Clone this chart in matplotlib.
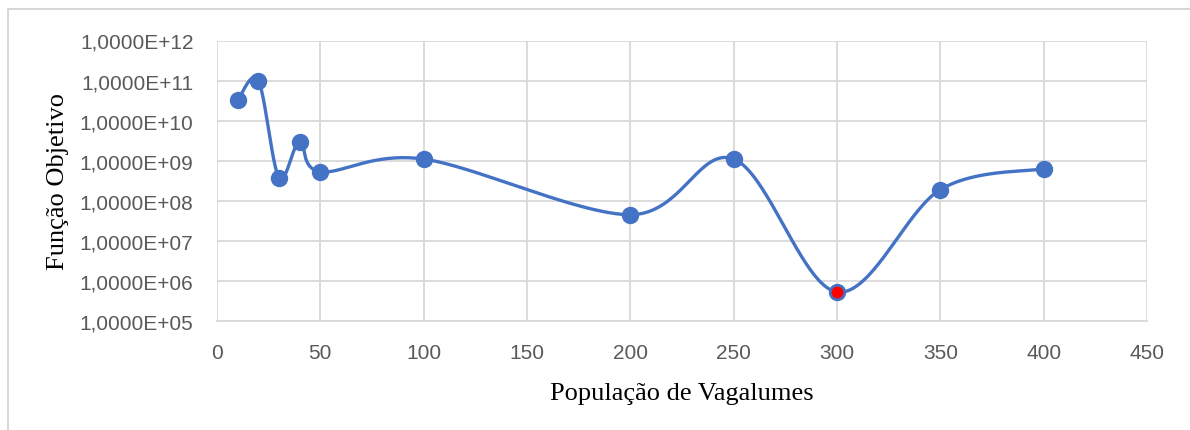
import numpy as np
import matplotlib
matplotlib.use("Agg")
import matplotlib.pyplot as plt
from matplotlib.patches import Rectangle
from matplotlib.ticker import FixedLocator, FuncFormatter

#%% data
populacao = [10, 20, 30, 40, 50, 100, 200, 250, 300, 350, 400]
funcao_obj = [3.2e10, 1.0e11, 3.8e8, 3.0e9, 5.3e8, 1.1e9, 4.5e7, 1.1e9, 5.3e5, 1.9e8, 6.3e8]
melhor_x = 300
x_ticks = [0, 50, 100, 150, 200, 250, 300, 350, 400, 450]
y_ticks = [1e5, 1e6, 1e7, 1e8, 1e9, 1e10, 1e11, 1e12]

blue = "#4472C4"
grid_c = "#D9D9D9"
tick_c = "#595959"

#%% smooth line (excel-like bezier, done in pixel space)
def smooth(xs, ys, sx=930 / 450, sy=40.0, n=40):
    px = np.array(xs, float) * sx
    py = np.log10(np.array(ys, float)) * sy
    P = np.column_stack([px, py])
    out = []
    for i in range(len(P) - 1):
        p0 = P[i - 1] if i > 0 else P[i]
        p1 = P[i]
        p2 = P[i + 1]
        p3 = P[i + 2] if i + 2 < len(P) else P[i + 1]
        c1 = p1 + (p2 - p0) / 6.0
        c2 = p2 - (p3 - p1) / 6.0
        t = np.linspace(0, 1, n)[:, None]
        seg = ((1 - t) ** 3) * p1 + 3 * ((1 - t) ** 2) * t * c1 + 3 * (1 - t) * t ** 2 * c2 + t ** 3 * p2
        out.append(seg if i == 0 else seg[1:])
    out = np.vstack(out)
    return out[:, 0] / sx, 10 ** (out[:, 1] / sy)

sx_, sy_ = smooth(populacao, funcao_obj)

#%% plot
fig = plt.figure(figsize=(11.9, 4.31), dpi=100)
fig.patches.append(Rectangle((8 / 1190, -0.1), 1.2, 1 - 10 / 431 + 0.1, transform=fig.transFigure,
                             fill=False, edgecolor="#D0D0D0", linewidth=1.2))
ax = fig.add_axes([217 / 1190, 1 - 322 / 431, 930 / 1190, (322 - 41.5) / 431])

ax.plot(sx_, sy_, color=blue, lw=2.4, zorder=3)
ax.plot(populacao, funcao_obj, "o", color=blue, ms=11.5, zorder=4)
i_best = populacao.index(melhor_x)
ax.plot([populacao[i_best]], [funcao_obj[i_best]], "o", color="#FF0000",
        mec=blue, mew=1.0, ms=9.5, zorder=5)

ax.set_yscale("log")
ax.set_xlim(0, 450)
ax.set_ylim(1e5, 1e12)
ax.xaxis.set_major_locator(FixedLocator(x_ticks))
ax.yaxis.set_major_locator(FixedLocator(y_ticks))
ax.yaxis.set_minor_locator(FixedLocator([]))
ax.yaxis.set_major_formatter(FuncFormatter(lambda v, p: "1,0000E+%02d" % round(np.log10(v))))
ax.grid(True, color=grid_c, lw=1.3)
ax.set_axisbelow(True)
for s in ["top", "right", "left"]:
    ax.spines[s].set_visible(False)
ax.spines["bottom"].set_color(grid_c)
ax.spines["bottom"].set_linewidth(1.3)
ax.tick_params(length=0, labelsize=15, colors=tick_c, labelfontfamily="Liberation Sans")
ax.tick_params(axis="y", pad=17)
ax.tick_params(axis="x", pad=16)

ax.set_xlabel("População de Vagalumes", fontsize=19, family="Liberation Serif", labelpad=14)
ax.set_ylabel("Função Objetivo", fontsize=19, family="Liberation Serif", labelpad=8)

fig.savefig("out.png", dpi=100)
